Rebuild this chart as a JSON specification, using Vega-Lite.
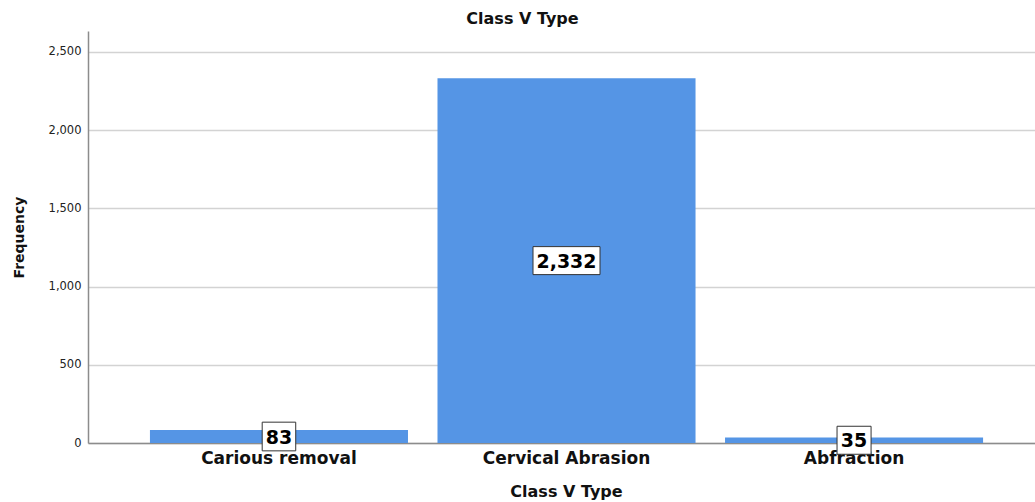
{
  "$schema": "https://vega.github.io/schema/vega-lite/v6.json",
  "width": 947,
  "height": 412,
  "autosize": "none",
  "padding": {"left": 88, "top": 31, "right": 0, "bottom": 59},
  "background": "white",
  "config": {
    "view": {"stroke": null},
    "font": "DejaVu Sans"
  },
  "title": {
    "text": "Class V Type",
    "font": "DejaVu Sans",
    "fontSize": 16,
    "fontWeight": "bold",
    "color": "#111111",
    "anchor": "middle",
    "dx": -39,
    "offset": 4
  },
  "data": {
    "values": [
      {"type": "Carious removal", "count": 83},
      {"type": "Cervical Abrasion", "count": 2332},
      {"type": "Abfraction", "count": 35}
    ]
  },
  "encoding": {
    "x": {
      "field": "type",
      "type": "nominal",
      "sort": null,
      "scale": {"paddingInner": 0.1026, "paddingOuter": 0.198, "align": 0.544},
      "axis": {
        "title": "Class V Type",
        "titleFont": "DejaVu Sans",
        "titleFontSize": 16,
        "titleFontWeight": "bold",
        "titleColor": "#111111",
        "titlePadding": 17,
        "titleX": 478,
        "labelAngle": 0,
        "labelFont": "DejaVu Sans",
        "labelFontSize": 17,
        "labelFontWeight": "bold",
        "labelColor": "#111111",
        "labelPadding": 7,
        "ticks": false,
        "domainColor": "#8c8c8c",
        "domainWidth": 1.5
      }
    }
  },
  "layer": [
    {
      "mark": {"type": "bar", "color": "#5595E5"},
      "encoding": {
        "y": {
          "field": "count",
          "type": "quantitative",
          "scale": {"domain": [0, 2634], "nice": false},
          "axis": {
            "title": "Frequency",
            "titleFont": "DejaVu Sans",
            "titleFontSize": 14,
            "titleFontWeight": "bold",
            "titleColor": "#111111",
            "titleX": -69,
            "titleY": 206,
            "titleAlign": "center",
            "titleBaseline": "middle",
            "titleAngle": -90,
            "values": [0, 500, 1000, 1500, 2000, 2500],
            "format": ",d",
            "labelFont": "DejaVu Sans",
            "labelFontSize": 11.5,
            "labelColor": "#222222",
            "labelPadding": 7,
            "ticks": false,
            "grid": true,
            "gridColor": "#d3d3d3",
            "gridWidth": 1.5,
            "domainColor": "#8c8c8c",
            "domainWidth": 1.5
          }
        }
      }
    },
    {
      "transform": [{"calculate": "datum.count / 2", "as": "mid"}],
      "mark": {"type": "point", "filled": true, "fill": "white", "stroke": "#333333", "strokeWidth": 1, "opacity": 1, "size": 4900},
      "encoding": {
        "y": {"field": "mid", "type": "quantitative"},
        "shape": {
          "field": "type",
          "type": "nominal",
          "legend": null,
          "scale": {
            "domain": ["Carious removal", "Cervical Abrasion", "Abfraction"],
            "range": [
              "M-0.479,-0.41L0.479,-0.41L0.479,0.41L-0.479,0.41Z",
              "M-0.957,-0.4L0.957,-0.4L0.957,0.4L-0.957,0.4Z",
              "M-0.486,-0.4L0.486,-0.4L0.486,0.4L-0.486,0.4Z"
            ]
          }
        }
      }
    },
    {
      "transform": [{"calculate": "datum.count / 2", "as": "mid"}],
      "mark": {"type": "text", "font": "DejaVu Sans", "fontSize": 19, "fontWeight": "bold", "color": "#000000", "baseline": "middle", "align": "center", "dy": 1},
      "encoding": {
        "y": {"field": "mid", "type": "quantitative"},
        "text": {"field": "count", "type": "quantitative", "format": ",d"}
      }
    }
  ]
}
